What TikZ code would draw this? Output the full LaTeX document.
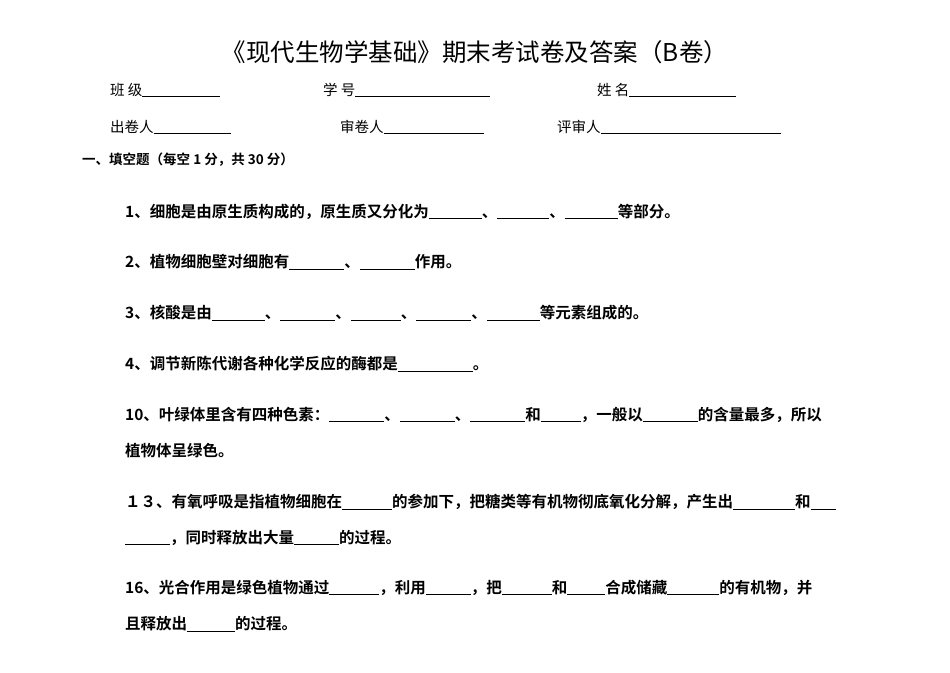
\documentclass[tikz,border=0pt]{standalone}
\usepackage{fontspec}
\setmainfont{Noto Sans CJK SC}[BoldFont=Noto Sans CJK SC Bold]
\newcommand{\bl}[1]{\rule[-1.5pt]{#1pt}{0.6pt}}
\begin{document}
\begin{tikzpicture}[x=1pt,y=-1pt]
\tikzset{q/.style={anchor=west,inner sep=0,font=\fontsize{15.5}{16}\selectfont\bfseries},
hd/.style={anchor=west,inner sep=0,font=\fontsize{14.5}{15}\selectfont}}
\useasboundingbox[fill=white] (0,0) rectangle (950,672);
\node (t) at (475,52) [inner sep=0,font=\fontsize{24.5}{26}\selectfont] {《现代生物学基础》期末考试卷及答案（B卷）};
\node (h1) at (110,90) [hd] {班\ 级\bl{78}};
\node (h2) at (323,90) [hd] {学\ 号\bl{135}};
\node (h3) at (597,90) [hd] {姓\ 名\bl{107}};
\node (h4) at (110,127) [hd] {出卷人\bl{77}};
\node (h5) at (340,127) [hd] {审卷人\bl{100}};
\node (h6) at (557,127) [hd] {评审人\bl{180}};
\node (s) at (82,160) [anchor=west,inner sep=0,font=\fontsize{13.5}{14}\selectfont\bfseries] {一、填空题（每空 1 分，共 30 分）};
\node (q1) at (125,212) [q] {1、细胞是由原生质构成的，原生质又分化为\bl{53}、\bl{52}、\bl{53}等部分。};
\node (q2) at (125,262) [q] {2、植物细胞壁对细胞有\bl{55}、\bl{55}作用。};
\node (q3) at (125,313) [q] {3、核酸是由\bl{53}、\bl{55}、\bl{50}、\bl{55}、\bl{53}等元素组成的。};
\node (q4) at (125,364) [q] {4、调节新陈代谢各种化学反应的酶都是\bl{75}。};
\node (q10) at (125,415) [q] {10、叶绿体里含有四种色素：\bl{55}、\bl{55}、\bl{55}和\bl{40}，一般以\bl{55}的含量最多，所以};
\node (q10b) at (125,451) [q] {植物体呈绿色。};
\node (q13) at (125,502) [q] {１３、有氧呼吸是指植物细胞在\bl{50}的参加下，把糖类等有机物彻底氧化分解，产生出\bl{62}和\bl{25}};
\node (q13b) at (125,538) [q] {\bl{45}，同时释放出大量\bl{45}的过程。};
\node (q16) at (125,588) [q] {16、光合作用是绿色植物通过\bl{50}，利用\bl{45}，把\bl{50}和\bl{38}合成储藏\bl{52}的有机物，并};
\node (q16b) at (125,624) [q] {且释放出\bl{48}的过程。};
\end{tikzpicture}
\end{document}
